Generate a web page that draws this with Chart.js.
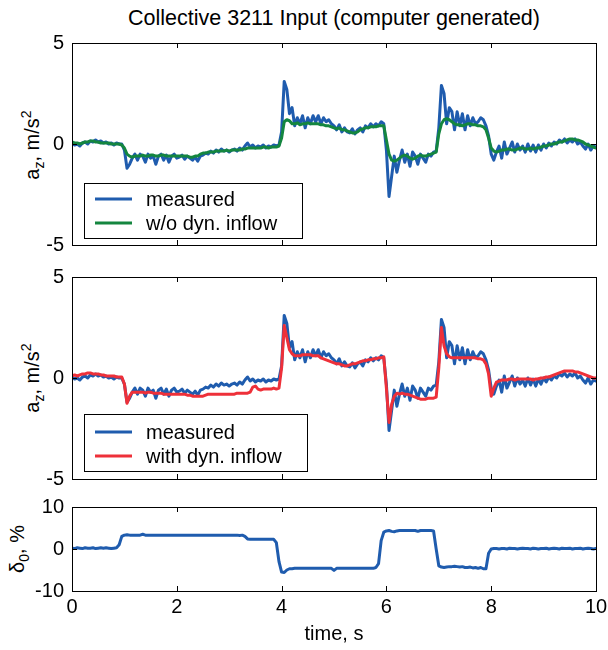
<!DOCTYPE html>
<html>
<head>
<meta charset="utf-8">
<script src="https://cdn.jsdelivr.net/npm/chart.js@4.4.1/dist/chart.umd.min.js"></script>
<style>
  body { margin: 0; background: #fff; font-family: "Liberation Sans", Arial, sans-serif; }
  #wrap { position: relative; width: 608px; height: 650px; }
  canvas { position: absolute; left: 0; }
  .lbl { position: absolute; white-space: nowrap; color: #000; font-size: 20px; transform: translate(-50%, -50%); }
  .rot { transform: translate(-50%, -50%) rotate(-90deg); }
  sub, sup { font-size: 0.7em; line-height: 0; }
</style>
</head>
<body>
<div id="wrap">
  <div class="lbl" style="left:334px;top:18px;font-size:21.5px">Collective 3211 Input (computer generated)</div>
  <div class="lbl rot" style="left:32px;top:145px">a<sub>z</sub>, m/s<sup>2</sup></div>
  <div class="lbl rot" style="left:32px;top:378px">a<sub>z</sub>, m/s<sup>2</sup></div>
  <div class="lbl rot" style="left:17px;top:549px">&delta;<sub>0</sub>, %</div>
  <canvas id="c1" width="608" height="260" style="top:0px"></canvas>
  <canvas id="c2" width="608" height="232" style="top:260px"></canvas>
  <canvas id="c3" width="608" height="158" style="top:492px"></canvas>
</div>
<script>
// sample times, s
const time = [
  0,0.05,0.1,0.15,0.2,0.25,0.3,0.35,0.4,0.45,0.5,0.55,0.6,0.65,0.7,0.75,0.8,0.85,0.9,0.95,
  1,1.05,1.1,1.15,1.2,1.25,1.3,1.35,1.4,1.45,1.5,1.55,1.6,1.65,1.7,1.75,1.8,1.85,1.9,1.95,
  2,2.05,2.1,2.15,2.2,2.25,2.3,2.35,2.4,2.45,2.5,2.55,2.6,2.65,2.7,2.75,2.8,2.85,2.9,2.95,
  3,3.05,3.1,3.15,3.2,3.25,3.3,3.35,3.4,3.45,3.5,3.55,3.6,3.65,3.7,3.75,3.8,3.85,3.9,3.95,
  4,4.05,4.1,4.15,4.2,4.25,4.3,4.35,4.4,4.45,4.5,4.55,4.6,4.65,4.7,4.75,4.8,4.85,4.9,4.95,
  5,5.05,5.1,5.15,5.2,5.25,5.3,5.35,5.4,5.45,5.5,5.55,5.6,5.65,5.7,5.75,5.8,5.85,5.9,5.95,
  6,6.05,6.1,6.15,6.2,6.25,6.3,6.35,6.4,6.45,6.5,6.55,6.6,6.65,6.7,6.75,6.8,6.85,6.9,6.95,
  7,7.05,7.1,7.15,7.2,7.25,7.3,7.35,7.4,7.45,7.5,7.55,7.6,7.65,7.7,7.75,7.8,7.85,7.9,7.95,
  8,8.05,8.1,8.15,8.2,8.25,8.3,8.35,8.4,8.45,8.5,8.55,8.6,8.65,8.7,8.75,8.8,8.85,8.9,8.95,
  9,9.05,9.1,9.15,9.2,9.25,9.3,9.35,9.4,9.45,9.5,9.55,9.6,9.65,9.7,9.75,9.8,9.85,9.9,9.95,
  10
];

// a_z measured, m/s^2
const azMeasured = [
  0.05,-0.05,0,-0.1,0.05,0.1,0,0.15,0.1,0.2,0.1,0.15,0.05,0.1,0,0.05,-0.05,0.05,0,0,
  -0.3,-1.2,-1.0,-0.7,-0.5,-0.8,-0.5,-0.6,-0.9,-0.5,-0.7,-0.6,-1.0,-0.6,-0.5,-0.8,-0.55,-0.9,-0.6,-0.5,
  -0.7,-0.65,-0.55,-0.75,-0.6,-0.7,-0.8,-0.65,-0.85,-0.6,-0.55,-0.45,-0.5,-0.35,-0.45,-0.3,-0.4,-0.25,-0.35,-0.3,
  -0.4,-0.3,-0.25,-0.35,-0.2,-0.3,-0.1,0.05,-0.15,-0.05,-0.2,-0.1,-0.15,-0.05,-0.2,-0.1,-0.15,-0.05,-0.1,-0.05,
  0.6,3.1,2.7,1.5,1.8,0.9,1.3,1.0,1.4,0.8,1.3,1.0,1.4,1.1,1.4,1.0,1.3,1.1,1.2,1.0,
  0.9,0.7,0.95,0.6,0.8,0.6,0.55,0.75,0.5,0.7,0.8,0.6,0.9,0.8,1.0,0.85,1.0,0.9,1.1,1.0,
  -0.3,-2.6,-1.6,-0.6,-1.4,-0.8,-0.3,-0.9,-0.5,-1.1,-0.4,-0.6,-1.0,-0.5,-0.7,-0.9,-0.5,-0.6,-0.4,-0.35,
  0.8,2.9,2.5,1.0,1.8,1.6,0.7,1.6,0.9,1.5,0.7,1.4,0.9,1.3,1.0,1.1,1.3,1.2,0.9,0.4,
  -0.5,-0.8,-0.4,-0.1,-0.7,0.1,-0.5,-0.2,0.1,-0.4,0,-0.3,-0.1,-0.4,0,-0.35,-0.05,-0.4,-0.05,-0.3,
  0,-0.2,0.05,-0.1,0.1,0,0.2,0.1,0.25,0.05,0.2,0.1,0.25,0,0.1,-0.1,-0.25,0,-0.3,-0.1,
  -0.15
];

// a_z model without dynamic inflow
const azNoInflow = [
  0.1,0.05,0.05,0,0.05,0.1,0.1,0.15,0.15,0.1,0.1,0.05,0.05,0.05,0.05,0,0,0,0,-0.05,
  -0.2,-0.5,-0.6,-0.65,-0.6,-0.6,-0.6,-0.55,-0.6,-0.6,-0.55,-0.55,-0.6,-0.6,-0.55,-0.55,-0.6,-0.6,-0.6,-0.6,
  -0.6,-0.6,-0.6,-0.6,-0.6,-0.65,-0.65,-0.6,-0.6,-0.5,-0.45,-0.45,-0.4,-0.4,-0.4,-0.35,-0.35,-0.35,-0.35,-0.3,
  -0.35,-0.3,-0.3,-0.3,-0.3,-0.25,-0.25,-0.2,-0.2,-0.2,-0.2,-0.2,-0.2,-0.15,-0.15,-0.2,-0.15,-0.15,-0.15,-0.1,
  0.3,1.1,1.2,1.15,1.0,1.0,1.05,0.95,1.0,1.0,1.05,1.0,1.0,1.0,1.0,0.95,0.95,0.9,0.9,0.85,
  0.8,0.75,0.8,0.7,0.7,0.65,0.6,0.55,0.55,0.6,0.7,0.75,0.8,0.8,0.85,0.85,0.85,0.9,0.9,0.9,
  0.2,-0.5,-0.8,-0.85,-0.8,-0.7,-0.6,-0.55,-0.6,-0.7,-0.75,-0.7,-0.6,-0.55,-0.6,-0.6,-0.55,-0.5,-0.45,-0.4,
  0.5,1.0,1.2,1.25,1.2,1.1,1.0,0.95,0.95,0.9,0.95,1.0,1.0,0.95,0.95,0.9,0.9,0.85,0.7,0.3,
  -0.2,-0.35,-0.4,-0.35,-0.3,-0.3,-0.25,-0.25,-0.3,-0.3,-0.25,-0.2,-0.2,-0.25,-0.25,-0.2,-0.25,-0.2,-0.2,-0.15,
  -0.1,-0.1,-0.05,0,0,0.05,0.1,0.1,0.15,0.2,0.25,0.25,0.2,0.2,0.15,0.1,0,-0.05,-0.1,-0.15,
  -0.2
];

// a_z model with dynamic inflow
const azWithInflow = [
  0.1,0.15,0.1,0.15,0.2,0.2,0.25,0.25,0.2,0.2,0.2,0.15,0.15,0.1,0.1,0.1,0.1,0.05,0.05,0.05,
  -0.3,-1.25,-0.9,-0.7,-0.7,-0.7,-0.7,-0.7,-0.75,-0.7,-0.7,-0.75,-0.75,-0.75,-0.75,-0.8,-0.8,-0.8,-0.8,-0.8,
  -0.8,-0.8,-0.8,-0.8,-0.85,-0.85,-0.9,-0.9,-0.9,-0.9,-0.9,-0.85,-0.8,-0.8,-0.8,-0.8,-0.8,-0.8,-0.8,-0.8,
  -0.8,-0.8,-0.8,-0.75,-0.75,-0.75,-0.75,-0.75,-0.7,-0.45,-0.4,-0.55,-0.6,-0.55,-0.55,-0.55,-0.55,-0.5,-0.55,-0.5,
  0.5,2.6,2.0,1.4,1.2,1.1,1.1,1.1,1.15,1.15,1.15,1.15,1.1,1.1,1.1,1.0,0.95,0.9,0.85,0.8,
  0.75,0.7,0.7,0.65,0.6,0.6,0.65,0.7,0.7,0.75,0.8,0.85,0.85,0.9,0.9,0.95,0.95,1.0,1.0,1.05,
  -0.5,-2.2,-1.3,-0.9,-0.75,-0.8,-0.75,-0.8,-0.8,-0.85,-0.9,-0.95,-1.0,-1.05,-1.05,-1.05,-1.0,-1.0,-1.0,-0.95,
  0.5,2.5,1.6,1.2,1.05,1.0,1.0,1.0,1.0,1.0,1.0,1.0,1.0,1.0,1.0,0.95,0.95,0.9,0.7,0.2,
  -0.9,-0.5,-0.2,-0.15,-0.1,-0.1,-0.1,-0.05,-0.05,-0.1,-0.05,-0.05,-0.05,-0.05,-0.05,-0.05,-0.1,-0.05,-0.05,0,
  0,0.05,0.05,0.1,0.15,0.2,0.25,0.3,0.35,0.35,0.35,0.35,0.3,0.3,0.25,0.2,0.15,0.1,0.05,0,
  0
];

// collective input delta_0, %
const delta0 = [
  0.2,0.1,0.3,0.2,0.1,0.3,0.2,0.2,0.3,0.1,0.2,0.3,0.2,0.3,0.2,0.1,0.2,0.3,1.0,3.0,
  3.3,3.4,3.3,3.3,3.3,3.3,3.3,3.5,3.3,3.3,3.3,3.3,3.3,3.3,3.3,3.3,3.3,3.3,3.3,3.3,
  3.3,3.3,3.3,3.3,3.3,3.3,3.3,3.3,3.3,3.3,3.3,3.3,3.3,3.3,3.3,3.3,3.3,3.3,3.3,3.3,
  3.3,3.3,3.3,3.3,3.2,3.3,3.0,2.4,2.3,2.3,2.3,2.3,2.3,2.3,2.3,2.3,2.3,2.3,1.5,-3.0,
  -5.5,-5.6,-5.0,-4.7,-4.7,-4.6,-4.6,-4.6,-4.6,-4.6,-4.6,-4.6,-4.6,-4.6,-4.6,-4.6,-4.6,-4.6,-4.6,-4.6,
  -5.1,-4.6,-4.6,-4.6,-4.6,-4.6,-4.6,-4.6,-4.6,-4.6,-4.6,-4.6,-4.6,-4.6,-4.6,-4.6,-4.4,-3.5,2.0,4.0,
  4.3,4.4,4.2,4.1,4.3,4.4,4.4,4.4,4.4,4.4,4.4,4.4,4.2,4.4,4.4,4.4,4.4,4.4,4.3,0.0,
  -4.0,-4.3,-4.4,-4.3,-4.2,-4.2,-4.1,-4.2,-4.3,-4.2,-4.4,-4.4,-4.3,-4.5,-4.4,-4.6,-4.4,-4.7,-4.7,-1.0,
  0.0,0.1,0.1,0.0,0.1,0.1,0.0,0.2,0.1,0.1,0.0,0.1,0.2,0.1,0.1,0.0,0.2,0.1,0.0,0.1,
  0.1,0.2,0.0,0.1,0.2,0.1,0.0,0.2,0.1,0.1,0.2,0.0,0.1,0.1,0.2,0.0,0.1,0.2,0.1,0.0,
  0.1
];

const timeTicks = [0, 2, 4, 6, 8, 10];
const azTicks = [-5, 0, 5];
const deltaTicks = [-10, 0, 10];

const BLUE = '#1f5cae';
const GREEN = '#14863f';
const RED = '#ee3039';
const FONT = '"Liberation Sans", Arial, sans-serif';

const toPoints = (vals) => vals.map((v, i) => ({ x: time[i], y: v }));

// box frame + inward tick marks, matlab style
const frameTicks = {
  id: 'frameTicks',
  afterDatasetsDraw(chart, args, opts) {
    const { ctx, chartArea: a, scales } = chart;
    const len = 5;
    ctx.save();
    ctx.strokeStyle = '#000';
    ctx.lineWidth = 1;
    ctx.beginPath();
    timeTicks.forEach(t => {
      const px = Math.round(scales.x.getPixelForValue(t)) + 0.5;
      ctx.moveTo(px, a.bottom); ctx.lineTo(px, a.bottom - len);
      ctx.moveTo(px, a.top); ctx.lineTo(px, a.top + len);
    });
    opts.yTicks.forEach(v => {
      const py = Math.round(scales.y.getPixelForValue(v)) + 0.5;
      ctx.moveTo(a.left, py); ctx.lineTo(a.left + len, py);
      ctx.moveTo(a.right, py); ctx.lineTo(a.right - len, py);
    });
    ctx.stroke();
    ctx.strokeRect(Math.round(a.left) + 0.5, Math.round(a.top) + 0.5,
      Math.round(a.right - a.left), Math.round(a.bottom - a.top));
    ctx.restore();
  }
};

// legend drawn inside the axes with a box around it
const boxLegend = {
  id: 'boxLegend',
  afterDraw(chart, args, opts) {
    if (!opts.box) return;
    const { ctx } = chart;
    const b = opts.box;
    ctx.save();
    ctx.fillStyle = '#fff';
    ctx.fillRect(b.left, b.top, b.width, b.height);
    ctx.strokeStyle = '#000';
    ctx.lineWidth = 1;
    ctx.strokeRect(b.left + 0.5, b.top + 0.5, b.width, b.height);
    ctx.font = '20px ' + FONT;
    ctx.textBaseline = 'middle';
    chart.data.datasets.forEach((ds, i) => {
      const y = b.top + opts.rowTop + i * opts.rowGap;
      ctx.strokeStyle = ds.borderColor;
      ctx.lineWidth = 3;
      ctx.beginPath();
      ctx.moveTo(b.left + 11, y);
      ctx.lineTo(b.left + 48, y);
      ctx.stroke();
      ctx.fillStyle = '#000';
      ctx.fillText(ds.label, b.left + 62, y + 1);
    });
    ctx.restore();
  }
};

function makeChart(id, datasets, yTicks, padding, legend, showTime) {
  const yMin = yTicks[0], yMax = yTicks[yTicks.length - 1];
  return new Chart(document.getElementById(id), {
    type: 'line',
    data: { datasets },
    plugins: [frameTicks, boxLegend],
    options: {
      responsive: false,
      animation: false,
      events: [],
      layout: { padding },
      elements: {
        point: { radius: 0 },
        line: { borderWidth: 3, tension: 0, borderJoinStyle: 'round', borderCapStyle: 'round' }
      },
      plugins: {
        legend: { display: false },
        tooltip: { enabled: false },
        frameTicks: { yTicks },
        boxLegend: legend
      },
      scales: {
        x: {
          type: 'linear', min: 0, max: 10,
          display: showTime,
          grid: { display: false, drawTicks: false },
          border: { display: false },
          afterBuildTicks: (s) => { s.ticks = timeTicks.map(v => ({ value: v })); },
          afterFit: (s) => {
            s.height = showTime ? 59 : 0;
            s.paddingLeft = 0; s.paddingRight = 0;
          },
          ticks: { color: '#000', font: { family: FONT, size: 20 }, padding: 4, maxRotation: 0 },
          title: { display: showTime, text: 'time, s', color: '#000', font: { family: FONT, size: 20 }, padding: { top: 0, bottom: 4 } }
        },
        y: {
          type: 'linear', min: yMin, max: yMax,
          grid: { display: false, drawTicks: false },
          border: { display: false },
          afterBuildTicks: (s) => { s.ticks = yTicks.map(v => ({ value: v })); },
          afterFit: (s) => {
            s.width = 72;
            s.paddingTop = 0; s.paddingBottom = 0;
          },
          ticks: { color: '#000', font: { family: FONT, size: 20 }, padding: 8 }
        }
      }
    }
  });
}

makeChart('c1', [
  { label: 'measured', data: toPoints(azMeasured), borderColor: BLUE, order: 1 },
  { label: 'w/o dyn. inflow', data: toPoints(azNoInflow), borderColor: GREEN, order: 0 }
], azTicks, { top: 43, bottom: 15, left: 0, right: 12 },
  { box: { left: 84, top: 183, width: 218, height: 55 }, rowTop: 16, rowGap: 24 }, false);

makeChart('c2', [
  { label: 'measured', data: toPoints(azMeasured), borderColor: BLUE, order: 1 },
  { label: 'with dyn. inflow', data: toPoints(azWithInflow), borderColor: RED, order: 0 }
], azTicks, { top: 17, bottom: 13, left: 0, right: 12 },
  { box: { left: 84, top: 154, width: 223, height: 57 }, rowTop: 18, rowGap: 24 }, false);

makeChart('c3', [
  { label: 'δ0', data: toPoints(delta0), borderColor: BLUE }
], deltaTicks, { top: 15, bottom: 0, left: 0, right: 12 }, {}, true);
</script>
</body>
</html>
